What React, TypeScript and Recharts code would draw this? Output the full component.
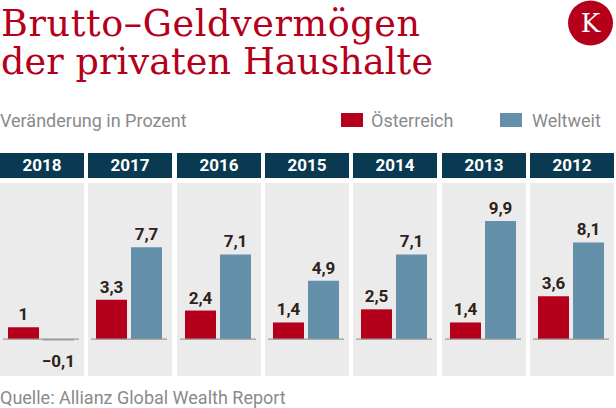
import React from 'react';
import { Bar, BarChart, LabelList, ReferenceLine, XAxis, YAxis } from 'recharts';

const years = ['2018', '2017', '2016', '2015', '2014', '2013', '2012'];
const oesterreich = [1, 3.3, 2.4, 1.4, 2.5, 1.4, 3.6];
const weltweit = [-0.1, 7.7, 7.1, 4.9, 7.1, 9.9, 8.1];

const RED = '#b5001b';
const BLUE = '#6590aa';
const NAVY = '#0a3a51';
const PANEL_BG = '#ebebeb';
const LABEL = '#2e2219';
const GREY_TEXT = '#8a8a8a';
const SANS = 'Roboto, "Noto Sans", sans-serif';
const SERIF = '"DejaVu Serif", serif';

const fmt = (v: number) => String(v).replace('.', ',').replace('-', '\u2212');

const renderLabel = (props: any) => {
  const { x, y, width, height, value } = props;
  const v = Number(value);
  const top = Math.min(y, y + height);
  const bottom = Math.max(y, y + height);
  const ty = v >= 0 ? top - 7 : bottom + 27;
  return (
    <text
      x={x + width / 2}
      y={ty}
      textAnchor="middle"
      fill={LABEL}
      style={{ fontFamily: SANS, fontWeight: 700, fontSize: 17 }}
    >
      {fmt(v)}
    </text>
  );
};

function Panel({ year, at, ww, left }: { year: string; at: number; ww: number; left: number }) {
  const data = [{ name: year, at, ww }];
  return (
    <div style={{ position: 'absolute', left, top: 153, width: 84 }}>
      <div
        style={{
          height: 25,
          background: NAVY,
          color: '#fff',
          fontFamily: SANS,
          fontWeight: 700,
          fontSize: 17,
          lineHeight: '25px',
          textAlign: 'center',
        }}
      >
        {year}
      </div>
      <div style={{ marginTop: 5, background: PANEL_BG, height: 193 }}>
        <BarChart
          width={84}
          height={193}
          data={data}
          margin={{ top: 1, right: 5, bottom: 1, left: 3 }}
          barSize={31}
          barGap={4}
        >
          <XAxis dataKey="name" hide />
          <YAxis domain={[-3, 13]} hide />
          <ReferenceLine y={0} stroke="#9a9a9a" strokeWidth={1.2} />
          <Bar dataKey="at" fill={RED} isAnimationActive={false}>
            <LabelList dataKey="at" content={renderLabel} />
          </Bar>
          <Bar dataKey="ww" fill={BLUE} isAnimationActive={false}>
            <LabelList dataKey="ww" content={renderLabel} />
          </Bar>
        </BarChart>
      </div>
    </div>
  );
}

export default function App() {
  return (
    <div style={{ position: 'absolute', left: 0, top: 0, width: 616, height: 408, background: '#fff', overflow: 'hidden' }}>
      <svg width={616} height={408} style={{ position: 'absolute', left: 0, top: 0 }}>
        <text x={1} y={36} fill={RED} textLength={419} lengthAdjust="spacing" style={{ fontFamily: SERIF, fontSize: 36.5 }}>
          Brutto–Geldvermögen
        </text>
        <text x={1} y={74} fill={RED} textLength={432} lengthAdjust="spacing" style={{ fontFamily: SERIF, fontSize: 36.5 }}>
          der privaten Haushalte
        </text>
        <circle cx={590.5} cy={23} r={22.5} fill={RED} />
        <text x={590.5} y={32} textAnchor="middle" fill="#fff" style={{ fontFamily: SERIF, fontSize: 26 }}>
          K
        </text>
        <text x={0} y={127} fill={GREY_TEXT} style={{ fontFamily: SANS, fontSize: 18 }}>
          Veränderung in Prozent
        </text>
        <rect x={341} y={113} width={22} height={14} fill={RED} />
        <text x={371} y={127} fill={GREY_TEXT} style={{ fontFamily: SANS, fontSize: 18 }}>
          Österreich
        </text>
        <rect x={500} y={113} width={22} height={14} fill={BLUE} />
        <text x={532} y={127} fill={GREY_TEXT} style={{ fontFamily: SANS, fontSize: 18 }}>
          Weltweit
        </text>
        <text x={0} y={404} fill={GREY_TEXT} style={{ fontFamily: SANS, fontSize: 18 }}>
          Quelle: Allianz Global Wealth Report
        </text>
      </svg>
      {years.map((y, i) => (
        <Panel key={y} year={y} at={oesterreich[i]} ww={weltweit[i]} left={Math.round(i * 88.33)} />
      ))}
    </div>
  );
}
